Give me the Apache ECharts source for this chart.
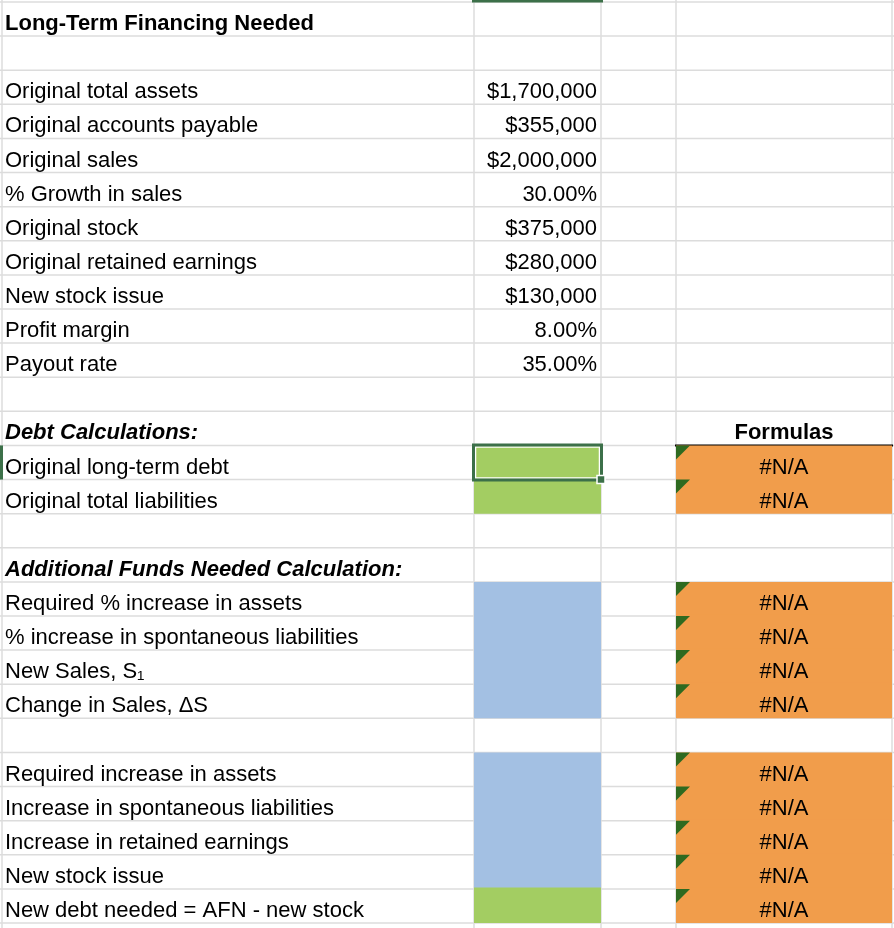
<!DOCTYPE html>
<html><head><meta charset="utf-8">
<script src="https://cdn.jsdelivr.net/npm/echarts@6/dist/echarts.min.js"></script>
<style>html,body{margin:0;padding:0;background:#fff}#c{width:894px;height:928px}</style>
</head><body><div id="c"></div>
<script>
// ---- data ----
const rowLabels = [
  "Long-Term Financing Needed", "",
  "Original total assets", "Original accounts payable", "Original sales", "% Growth in sales",
  "Original stock", "Original retained earnings", "New stock issue", "Profit margin", "Payout rate",
  "", "Debt Calculations:", "Original long-term debt", "Original total liabilities",
  "", "Additional Funds Needed Calculation:", "Required % increase in assets",
  "% increase in spontaneous liabilities", "New Sales, S\u2081", "Change in Sales, \u0394S",
  "", "Required increase in assets", "Increase in spontaneous liabilities",
  "Increase in retained earnings", "New stock issue", "New debt needed = AFN - new stock"
];
const labelKinds = [
  "title", "", "plain", "plain", "plain", "plain", "plain", "plain", "plain", "plain", "plain",
  "", "section", "plain", "plain", "", "section", "plain", "plain", "plain", "plain",
  "", "plain", "plain", "plain", "plain", "plain"
];
const inputValues = [
  null, null, 1700000, 355000, 2000000, 0.30, 375000, 280000, 130000, 0.08, 0.35,
  null, null, null, null, null, null, null, null, null, null,
  null, null, null, null, null, null
];
const inputFormats = [
  "", "", "usd", "usd", "usd", "pct", "usd", "usd", "usd", "pct", "pct",
  "", "", "", "", "", "", "", "", "", "", "", "", "", "", "", ""
];
const inputKinds = [
  "", "", "", "", "", "", "", "", "", "", "",
  "", "", "green", "green", "", "", "blue", "blue", "blue", "blue",
  "", "blue", "blue", "blue", "blue", "green"
];
const formulaTexts = [
  "", "", "", "", "", "", "", "", "", "", "",
  "", "Formulas", "#N/A", "#N/A", "", "", "#N/A", "#N/A", "#N/A", "#N/A",
  "", "#N/A", "#N/A", "#N/A", "#N/A", "#N/A"
];
const selectedCell = [1, 13];

// ---- layout / style ----
const colEdges = [0, 474, 601, 676, 892];
const vLines = [2, 474, 601, 676, 892];
const FONT = '"Liberation Sans", Arial, Helvetica, sans-serif';
const FS = 22;
const fills = { green: "#a3cd62", blue: "#a3c0e3", orange: "#f19d4b" };
const gridColor = "#dcdcdc";
const selColor = "#3c7049";

function fmt(v, f) {
  if (v == null) return "";
  if (f === "usd") return "$" + v.toLocaleString("en-US");
  if (f === "pct") return (v * 100).toFixed(2) + "%";
  return String(v);
}

const nRows = rowLabels.length;
const rowCats = rowLabels.map((_, i) => String(i));
const isNA = t => t === "#N/A";

// build cell list from the arrays
const cells = [];
for (let r = 0; r < nRows; r++) {
  if (rowLabels[r]) cells.push({ c: 0, r, text: rowLabels[r], kind: labelKinds[r], align: "left" });
  if (inputValues[r] != null || inputKinds[r])
    cells.push({ c: 1, r, text: fmt(inputValues[r], inputFormats[r]), fill: inputKinds[r] ? fills[inputKinds[r]] : null,
      up: r > 0 && !!inputKinds[r - 1], down: r < nRows - 1 && !!inputKinds[r + 1], align: "right" });
  if (formulaTexts[r]) {
    const na = isNA(formulaTexts[r]);
    cells.push({ c: 3, r, text: formulaTexts[r], fill: na ? fills.orange : null, align: "center",
      up: na && r > 0 && isNA(formulaTexts[r - 1]), down: na && r < nRows - 1 && isNA(formulaTexts[r + 1]),
      kind: na ? "plain" : "header", tri: na, underline: !na });
  }
}

function bandRect(api, c0, c1, r) {
  const x0 = api.coord([c0, r])[0];
  const x1 = api.coord([c1, r])[0];
  const yc = api.coord([0, r])[1];
  const h = api.size([0, 1])[1];
  return { x0, x1, y0: yc - h / 2, y1: yc + h / 2, yc, h };
}

const chart = echarts.init(document.getElementById("c"), null, { renderer: "canvas" });
chart.setOption({
  backgroundColor: "#ffffff",
  animation: false,
  grid: { left: 0, right: 0, top: 2, bottom: 5 },
  xAxis: { type: "value", min: 0, max: 894, show: false },
  yAxis: { type: "category", data: rowCats, inverse: true, show: false },
  series: [
    { // horizontal grid lines
      type: "custom", z: 1, silent: true,
      data: Array.from({ length: nRows + 1 }, (_, i) => [0, i]),
      renderItem: (params, api) => {
        const i = params.dataIndex;
        const rr = i < nRows ? i : nRows - 1;
        const b = bandRect(api, 0, 894, rr);
        const y = i < nRows ? b.y0 : b.y1;
        return { type: "line", shape: { x1: 0, y1: y, x2: 894, y2: y },
          style: { stroke: gridColor, lineWidth: 1.5 } };
      }
    },
    { // vertical grid lines
      type: "custom", z: 1, silent: true,
      data: vLines.map(x => [x, 0]),
      renderItem: (params, api) => {
        const x = api.coord([vLines[params.dataIndex], 0])[0];
        return { type: "line", shape: { x1: x, y1: 0, x2: x, y2: 928 },
          style: { stroke: gridColor, lineWidth: 1.5 } };
      }
    },
    { // cells
      type: "custom", z: 2, silent: true,
      data: cells.map(d => [colEdges[d.c], d.r]),
      renderItem: (params, api) => {
        const d = cells[params.dataIndex];
        const b = bandRect(api, colEdges[d.c], colEdges[d.c + 1], d.r);
        const children = [];
        if (d.fill) {
          const ya = b.y0 - (d.up ? 1.5 : 0);
          const yb = b.y1 + (d.down ? 1.5 : 0);
          children.push({ type: "rect", shape: { x: b.x0, y: ya, width: b.x1 - b.x0, height: yb - ya },
            style: { fill: d.fill } });
        }
        if (d.tri) children.push({ type: "polygon", shape: { points: [[b.x0, b.y0], [b.x0 + 14, b.y0], [b.x0, b.y0 + 14]] },
          style: { fill: "#2e6a20" } });
        if (d.underline) children.push({ type: "line", shape: { x1: b.x0 - 1, y1: b.y1, x2: b.x1 + 1, y2: b.y1 },
          style: { stroke: "#000", lineWidth: 2 } });
        let weight = "normal", sty = "normal";
        if (d.kind === "title" || d.kind === "header") weight = "bold";
        if (d.kind === "section") { weight = "bold"; sty = "italic"; }
        let tx = b.x0 + 5;
        if (d.align === "right") tx = b.x1 - 4;
        if (d.align === "center") tx = (b.x0 + b.x1) / 2;
        if (d.text) children.push({ type: "text", style: {
          text: d.text, x: tx, y: b.yc + 5, fill: "#000",
          font: sty + " " + weight + " " + FS + "px " + FONT,
          align: d.align, verticalAlign: "middle" } });
        return { type: "group", children };
      }
    },
    { // selection
      type: "custom", z: 3, silent: true,
      data: [[colEdges[selectedCell[0]], selectedCell[1]]],
      renderItem: (params, api) => {
        const b = bandRect(api, colEdges[selectedCell[0]], colEdges[selectedCell[0] + 1], selectedCell[1]);
        return { type: "group", children: [
          { type: "rect", shape: { x: b.x0 + 1.5, y: b.y0 + 1.5, width: b.x1 - b.x0 - 3, height: b.h - 3 },
            style: { fill: null, stroke: "#ffffff", lineWidth: 1.5 } },
          { type: "rect", shape: { x: b.x0 - 0.5, y: b.y0 - 0.5, width: b.x1 - b.x0 + 1, height: b.h + 1 },
            style: { fill: null, stroke: selColor, lineWidth: 3 } },
          { type: "rect", shape: { x: b.x1 - 4, y: b.y1 - 4, width: 8, height: 8 },
            style: { fill: selColor, stroke: "#ffffff", lineWidth: 1.5 } },
          { type: "rect", shape: { x: b.x0 - 2, y: 0, width: b.x1 - b.x0 + 4, height: 2.5 },
            style: { fill: selColor } },
          { type: "rect", shape: { x: 0, y: b.y0, width: 3, height: b.h },
            style: { fill: selColor } }
        ] };
      }
    }
  ]
});
</script></body></html>
